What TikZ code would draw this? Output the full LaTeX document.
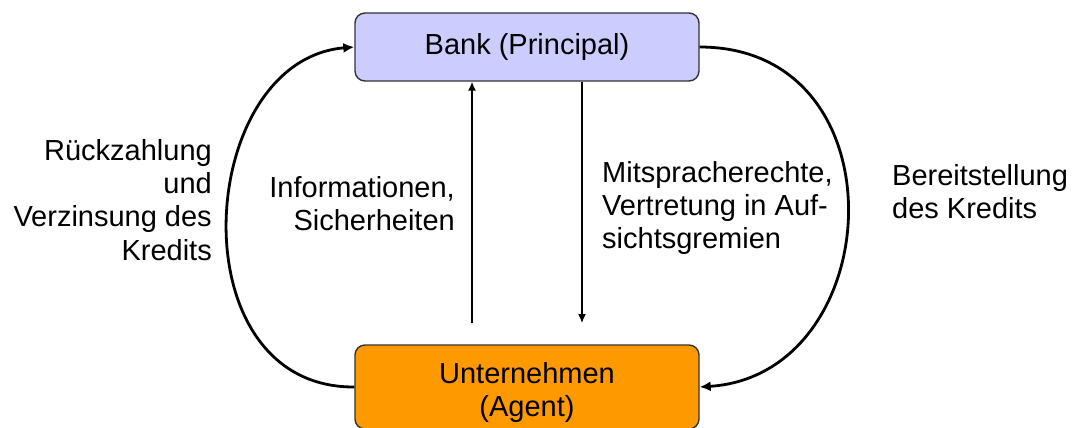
\documentclass[tikz,border=0pt]{standalone}
\usepackage{fontspec}
\setmainfont{Liberation Sans}
\usetikzlibrary{arrows.meta}
\definecolor{bankfill}{HTML}{CCCCFF}
\definecolor{agentfill}{HTML}{FF9900}
\definecolor{boxline}{HTML}{333333}
\begin{document}
\begin{tikzpicture}[x=1pt,y=-1pt,
  every node/.style={font=\fontsize{29}{33.3}\selectfont, inner sep=0pt},
  rbox/.style={draw=boxline, line width=1.4pt, rounded corners=10pt, minimum width=344pt},
  txt/.style={align=#1},
  arc/.style={line width=2.8pt, -{Latex[length=11pt,width=10pt]}},
  vline/.style={line width=1.4pt, -{Latex[length=9pt,width=8pt]}}]
\useasboundingbox (0,0) rectangle (1076,428);
\node[rbox, fill=bankfill, minimum height=68pt] (b) at (527,47) {Bank (Principal)};
\node[rbox, fill=agentfill, minimum height=84pt] (u) at (527,387) {};
\node[txt=center, anchor=north] (ut) at (527,362) {Unternehmen\\(Agent)};
\coordinate (ua) at (472,323);
\coordinate (ud) at (582,323);
\draw[vline] (ua) -- (ua |- b.south);
\draw[vline] (ud |- b.south) -- (ud);
\draw[arc] (u.west) .. controls (175,388) and (195,60) .. (b.west);
\draw[arc] (b.east) .. controls (905,47) and (888,375) .. (u.east);
\node[txt=right, anchor=north east] (l1) at (212,139) {Rückzahlung\\und\\Verzinsung des\\Kredits};
\node[txt=right, anchor=north east] (l2) at (455,176) {Informationen,\\Sicherheiten};
\node[txt=left, anchor=north west] (r1) at (602,161) {Mitspracherechte,\\Vertretung in Auf-\\sichtsgremien};
\node[txt=left, anchor=north west] (r2) at (892,164) {Bereitstellung\\des Kredits};
\end{tikzpicture}
\end{document}
